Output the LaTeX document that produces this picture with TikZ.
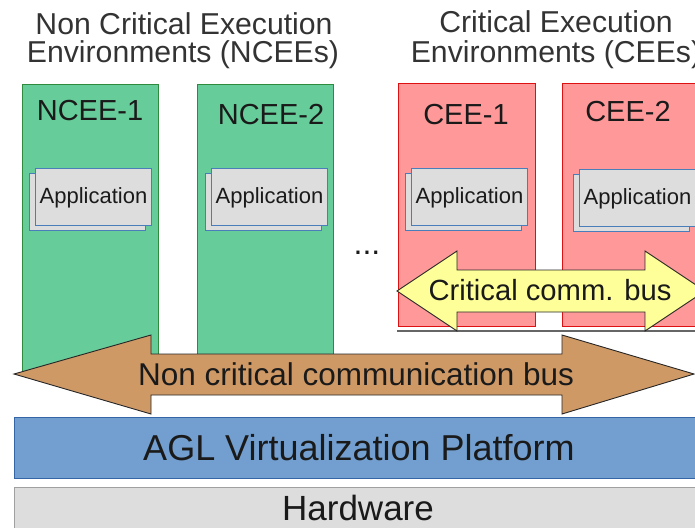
\documentclass[tikz,border=0pt]{standalone}
\usepackage{fontspec}
\setmainfont{Liberation Sans}
\definecolor{nceefill}{HTML}{66CC99}
\definecolor{nceedraw}{HTML}{2E8B3E}
\definecolor{ceefill}{HTML}{FF9999}
\definecolor{ceedraw}{HTML}{DD1111}
\definecolor{appfill}{HTML}{DDDDDD}
\definecolor{appdraw}{HTML}{4A7EBB}
\definecolor{busyellow}{HTML}{FFFF99}
\definecolor{busbrown}{HTML}{CF9966}
\definecolor{aglfill}{HTML}{729FCF}
\definecolor{agldraw}{HTML}{3465A4}
\definecolor{hwdraw}{HTML}{A0A0A0}
\definecolor{titlegray}{HTML}{333333}
\definecolor{txt}{HTML}{1A1A1A}
\newcommand{\fsz}[1]{\fontsize{#1pt}{#1pt}\selectfont}
\newcommand{\AppStack}[3]{%
  \node[appbox, anchor=north west] (#3b) at (#1-6,#2+5) {};
  \node[appbox, anchor=north west] (#3) at (#1,#2) {};
  \node[apptext] (#3t) at ([yshift=-7pt]#3.center) {Application};
}
\begin{document}
\begin{tikzpicture}[x=1pt,y=-1pt,
  envbox/.style={rectangle, inner sep=0pt, line width=1pt, anchor=north west},
  nceebox/.style={envbox, fill=nceefill, draw=nceedraw, minimum width=136pt, minimum height=289pt},
  ceebox/.style={envbox, fill=ceefill, draw=ceedraw, minimum width=137pt, minimum height=243pt},
  appbox/.style={rectangle, inner sep=0pt, fill=appfill, draw=appdraw, line width=0.9pt, minimum width=116pt, minimum height=57pt},
  apptext/.style={text=txt, font=\fsz{22}, anchor=base, inner sep=0pt},
  envlabel/.style={text=txt, font=\fsz{29}, anchor=base, inner sep=0pt},
  titletext/.style={text=titlegray, font=\fsz{30.2}, anchor=base, inner sep=0pt},
  bustext/.style={text=txt, anchor=base, inner sep=0pt},
  busshape/.style={draw=black!85, line width=0.9pt, line join=miter}
]
\useasboundingbox (0,0) rectangle (695,527);
\clip (0,0) rectangle (695,527);

% titles
\node[titletext] (t1a) at (184,35) {Non Critical Execution};
\node[titletext] (t1b) at (183,63) {Environments (NCEEs)};
\node[titletext] (t2a) at (556,33) {Critical Execution};
\node[titletext] (t2b) at (556,63) {Environments (CEEs)};

% environments
\node[nceebox] (ncee1) at (22,84) {};
\node[nceebox] (ncee2) at (197,84) {};
\node[ceebox] (cee1) at (398,83) {};
\node[ceebox] (cee2) at (562,83) {};

\node[envlabel] (l1) at (90,120) {NCEE-1};
\node[envlabel] (l2) at (271,124) {NCEE-2};
\node[envlabel] (l3) at (466,124) {CEE-1};
\node[envlabel] (l4) at (628,121) {CEE-2};

% applications
\AppStack{35}{168}{app1}
\AppStack{211}{168}{app2}
\AppStack{411}{168}{app3}
\AppStack{579}{169}{app4}

% ellipsis
\node[text=txt, font=\fsz{32}, anchor=base, inner sep=0pt] (dots) at (367,254) {...};

% separator line under CEEs
\coordinate (sepL) at (397,331);
\coordinate (sepR) at (700,331);
\draw[draw=black!60, line width=1.6pt] (sepL) -- (sepR);

% critical comm bus
\draw[busshape, fill=busyellow]
  (397,291) -- (457,251) -- (457,270) -- (645,270) -- (645,251) -- (705,291)
  -- (645,331) -- (645,312) -- (457,312) -- (457,331) -- cycle;
\node[bustext, font=\fsz{29.2}] (cbus) at (550,300) {Critical comm. bus};

% non critical bus
\draw[busshape, fill=busbrown]
  (14,374) -- (151,335) -- (151,354) -- (562,354) -- (562,335) -- (694,374)
  -- (562,414) -- (562,395) -- (151,395) -- (151,414) -- cycle;
\node[bustext, font=\fsz{31.5}] (nbus) at (356,385) {Non critical communication bus};

% platform
\node[envbox, fill=aglfill, draw=agldraw, minimum width=700pt, minimum height=61pt] (agl) at (14,417) {};
\node[bustext, font=\fsz{36}] (aglt) at (359,460) {AGL Virtualization Platform};

\node[envbox, fill=appfill, draw=hwdraw, minimum width=700pt, minimum height=60pt] (hw) at (14,487) {};
\node[bustext, font=\fsz{35}] (hwt) at (358,520) {Hardware};
\end{tikzpicture}
\end{document}
